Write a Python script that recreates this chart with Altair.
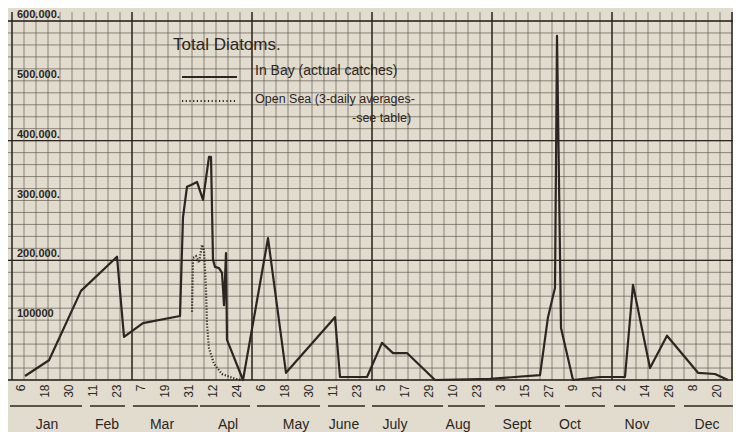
import altair as alt
import pandas as pd
import numpy as np

# ---- data (day of year, number of diatoms) ----
bay_day = [8.5, 20.5, 36.5, 54.5, 58, 67.5, 86, 87.5, 89.5, 91.5, 94.5, 97.5, 100.5, 101.5,
           102.5, 103.5, 105.5, 107, 108, 109, 109.5, 117.5, 130, 139, 163.5, 166, 179.5,
           187, 192.5, 199.5, 213.5, 241, 266, 270, 273.5, 274.5, 276.5, 282.5, 296, 308.5,
           312.5, 321, 329.5, 345, 353.5, 360]
bay_val = [6700, 33000, 149000, 206000, 72000, 95000, 107000, 272000, 323000, 326000, 331000,
           301000, 373000, 373000, 201000, 189000, 187000, 179000, 125000, 212000, 67000, 0,
           237000, 12000, 105000, 5000, 5000, 62000, 45000, 45000, 0, 2000, 8000, 105000,
           154000, 575000, 87000, 0, 5000, 5000, 159000, 20000, 74000, 12000, 10000, 0]

sea_day = [92, 92.5, 94, 95.5, 97, 98, 99, 99.5, 100.5, 103, 107, 113.5, 117]
sea_val = [114000, 204000, 207000, 196000, 226000, 217000, 150000, 92000, 53000, 27000,
           10000, 2000, 0]

tick_days = [6, 18, 30, 42, 54, 66, 78, 90, 102, 114, 126, 138, 150, 162, 174, 186, 198,
             210, 222, 234, 246, 258, 270, 282, 294, 306, 318, 330, 342, 354]
tick_labels = ["6", "18", "30", "11", "23", "7", "19", "31", "12", "24", "6", "18", "30",
               "11", "23", "5", "17", "29", "10", "23", "3", "15", "27", "9", "21", "2",
               "14", "26", "8", "20"]

months = ["Jan", "Feb", "Mar", "Apl", "May", "June", "July", "Aug", "Sept", "Oct", "Nov", "Dec"]
month_mid = [19.5, 49.5, 77, 110, 144, 168, 193.5, 225, 254.5, 281, 314.5, 349.5]
brace_start = [1, 41, 62.5, 96, 124.5, 160, 182, 220, 243.5, 278.5, 303, 338]
brace_end = [37, 58.5, 95, 121, 156, 178.5, 217.5, 238.5, 276, 298.5, 333.5, 366]

ylab_vals = [600000, 500000, 400000, 300000, 200000, 100000]
ylab_text = ["600.000.", "500.000.", "400.000.", "300.000.", "200.000.", "100000"]

# ---- style ----
BG = "#e2dccf"
INK = "#2b2621"
GRID = "#5c564e"
FONT = "Liberation Sans"
W, H = 721, 359

xs = alt.Scale(domain=[2, 362.5], nice=False, zero=False)
ys = alt.Scale(domain=[0, 600000], nice=False)

bay = pd.DataFrame({"day": bay_day, "val": bay_val})
sea = pd.DataFrame({"day": sea_day, "val": sea_val})

minor_x = pd.DataFrame({"day": np.arange(2, 363, 6)})
major_x = pd.DataFrame({"day": np.arange(2, 363, 60)})
minor_y = pd.DataFrame({"val": np.arange(0, 600001, 20000)})
major_y = pd.DataFrame({"val": np.arange(0, 600001, 200000)})

label_expr = " : ".join(
    f"datum.value == {d} ? '{t}'" for d, t in zip(tick_days, tick_labels)
) + " : ''"

xaxis = alt.Axis(values=tick_days, labelExpr=label_expr, labelAngle=270, labelFontSize=12,
                 labelColor=INK, labelFont=FONT, labelOverlap=False, labelFlush=False,
                 labelPadding=4, ticks=False, domain=False, grid=False, title=None)

gx_minor = alt.Chart(minor_x).mark_rule(color=GRID, strokeWidth=0.9, opacity=0.75).encode(
    x=alt.X("day:Q", scale=xs, axis=xaxis),
    y=alt.value(-9), y2=alt.value(H))
gx_major = alt.Chart(major_x).mark_rule(color=INK, strokeWidth=1.4).encode(
    x=alt.X("day:Q", scale=xs, axis=xaxis), y=alt.value(-9), y2=alt.value(H))
gy_minor = alt.Chart(minor_y).mark_rule(color=GRID, strokeWidth=0.9, opacity=0.75).encode(
    y=alt.Y("val:Q", scale=ys, axis=None), x=alt.value(-4), x2=alt.value(W))
gy_major = alt.Chart(major_y).mark_rule(color=INK, strokeWidth=1.4).encode(
    y=alt.Y("val:Q", scale=ys, axis=None), x=alt.value(-6), x2=alt.value(W))

bay_line = alt.Chart(bay).mark_line(color=INK, strokeWidth=2.2, strokeJoin="round").encode(
    x=alt.X("day:Q", scale=xs, axis=xaxis), y=alt.Y("val:Q", scale=ys, axis=None),
    order="day:Q")
sea_line = alt.Chart(sea).mark_line(color=INK, strokeWidth=2.2, strokeDash=[1.2, 1.8]).encode(
    x=alt.X("day:Q", scale=xs, axis=xaxis), y=alt.Y("val:Q", scale=ys, axis=None))

ylab = alt.Chart(pd.DataFrame({"val": ylab_vals, "t": ylab_text})).mark_text(
    align="left", baseline="bottom", dx=5, dy=-1, fontSize=11, font=FONT, color=INK,
    fontWeight="bold").encode(x=alt.value(0), y=alt.Y("val:Q", scale=ys, axis=None), text="t:N")

legend_text = pd.DataFrame({
    "t": ["Total Diatoms.", "In Bay (actual catches)", "Open Sea (3-daily averages-", "-see table)"],
    "px": [161, 243, 243, 340],
    "py": [24, 50, 78, 97],
    "fs": [17, 14, 12.5, 12.5],
})
leg = alt.Chart(legend_text).mark_text(align="left", baseline="middle", font=FONT,
                                       color=INK).encode(
    x=alt.X("px:Q", scale=None, axis=None), y=alt.Y("py:Q", scale=None, axis=None),
    text="t:N", size=alt.Size("fs:Q", scale=None, legend=None))
leg_solid = alt.Chart(pd.DataFrame({"k": [0]})).mark_rule(color=INK, strokeWidth=2).encode(
    x=alt.value(170), x2=alt.value(225), y=alt.value(56))
leg_dot = alt.Chart(pd.DataFrame({"k": [0]})).mark_rule(color=INK, strokeWidth=2,
                                                         strokeDash=[1.2, 2.5]).encode(
    x=alt.value(170), x2=alt.value(225), y=alt.value(80))

mdf = pd.DataFrame({"m": months, "mid": month_mid, "s": brace_start, "e": brace_end})
braces = alt.Chart(mdf).mark_rule(color=INK, strokeWidth=1.3).encode(
    x=alt.X("s:Q", scale=xs, axis=xaxis), x2="e:Q", y=alt.value(H + 26))
mlab = alt.Chart(mdf).mark_text(baseline="middle", fontSize=14, font=FONT, color=INK).encode(
    x=alt.X("mid:Q", scale=xs, axis=xaxis), y=alt.value(H + 45), text="m:N")

chart = alt.layer(gx_minor, gy_minor, gx_major, gy_major, sea_line, bay_line, ylab,
                  leg, leg_solid, leg_dot, braces, mlab).properties(
    width=W, height=H,
    autosize=alt.AutoSizeParams(type="none"),
    padding={"left": 4, "top": 13, "right": 0, "bottom": 52},
    background=BG,
).configure_view(stroke=None).configure_axisX(labelOverlap=False)

chart.save("out.html", embed_options={"renderer": "svg", "actions": False})
